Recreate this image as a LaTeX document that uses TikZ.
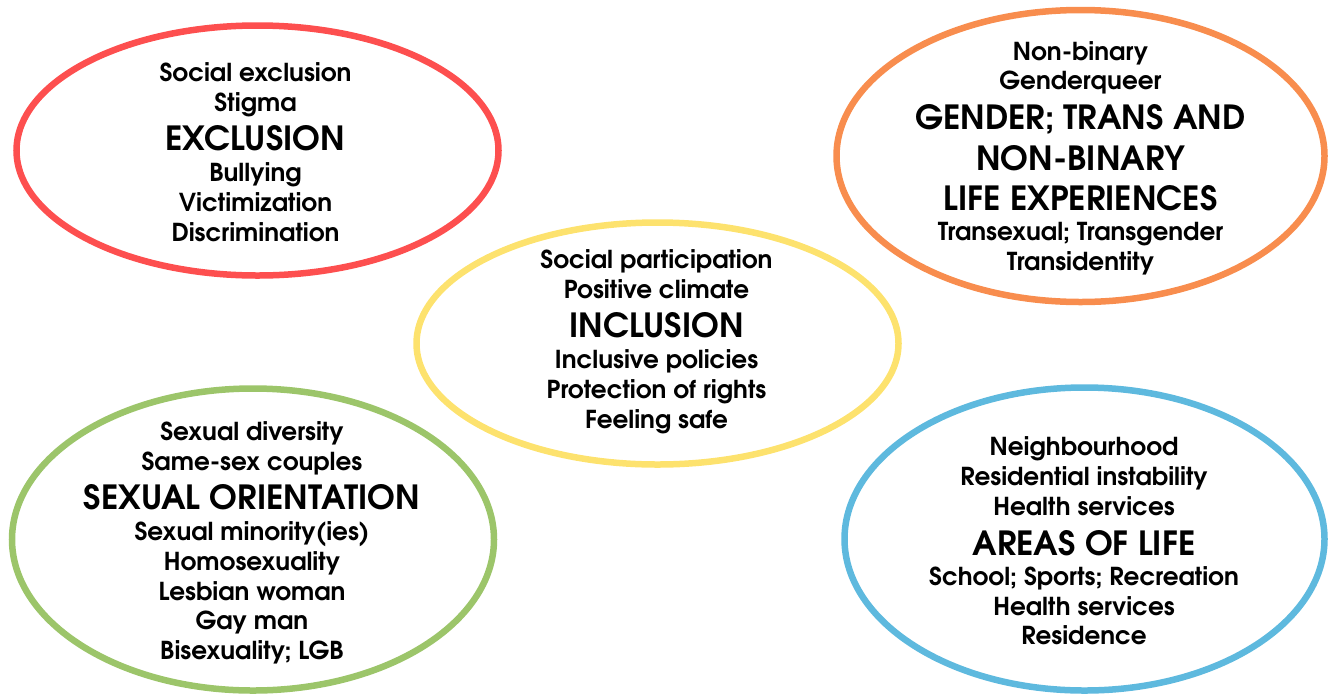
\documentclass[tikz,border=0pt]{standalone}
\usepackage{fontspec}
\setmainfont{texgyreadventor}[Extension=.otf, UprightFont=*-regular, BoldFont=*-bold]
\usetikzlibrary{shapes.geometric}
\definecolor{redc}{HTML}{FD4F4F}
\definecolor{orac}{HTML}{F88D4E}
\definecolor{yelc}{HTML}{FDE26E}
\definecolor{grec}{HTML}{9CC56A}
\definecolor{bluc}{HTML}{5EB9DE}
\tikzset{
  ell/.style={ellipse, line width=6.5pt, inner sep=0pt, outer sep=0pt},
  t/.style={anchor=base, inner sep=0pt, font=\fontsize{24.7}{26}\selectfont\bfseries},
  big/.style={anchor=base, inner sep=0pt, font=\fontsize{33.3}{35}\selectfont\bfseries},
}
\begin{document}
\begin{tikzpicture}[x=1pt, y=-1pt]
\useasboundingbox (0,0) rectangle (1330,694);
% ellipses
\node[ell, draw=redc, minimum width=482pt, minimum height=250pt] (exc) at (257.5,150.5) {};
\node[ell, draw=orac, minimum width=488pt, minimum height=292pt] (gen) at (1080.5,156) {};
\node[ell, draw=yelc, minimum width=482pt, minimum height=242pt] (inc) at (657.5,343.5) {};
\node[ell, draw=grec, minimum width=482pt, minimum height=302pt] (sex) at (253,539.5) {};
\node[ell, draw=bluc, minimum width=480pt, minimum height=303pt] (are) at (1084.5,539) {};
% exclusion
\node[t] (e1) at (255.5,81) {Social exclusion};
\node[t] (e2) at (255.5,111) {Stigma};
\node[big] (e3) at (255.5,150) {EXCLUSION};
\node[t] (e4) at (255.5,181) {Bullying};
\node[t] (e5) at (255.5,211) {Victimization};
\node[t] (e6) at (255.5,241) {Discrimination};
% gender
\node[t] (g1) at (1080.5,60) {Non-binary};
\node[t] (g2) at (1080.5,89.5) {Genderqueer};
\node[big] (g3) at (1080.5,129.5) {GENDER; TRANS AND};
\node[big] (g4) at (1080.5,170) {NON-BINARY};
\node[big] (g5) at (1080.5,210.5) {LIFE EXPERIENCES};
\node[t] (g6) at (1080.5,240.5) {Transexual; Transgender};
\node[t] (g7) at (1080.5,270.5) {Transidentity};
% inclusion
\node[t] (i1) at (656.5,268) {Social participation};
\node[t] (i2) at (656.5,298) {Positive climate};
\node[big] (i3) at (656.5,337) {INCLUSION};
\node[t] (i4) at (656.5,368) {Inclusive policies};
\node[t] (i5) at (656.5,398) {Protection of rights};
\node[t] (i6) at (656.5,428) {Feeling safe};
% sexual orientation
\node[t] (s1) at (252,440) {Sexual diversity};
\node[t] (s2) at (252,470) {Same-sex couples};
\node[big] (s3) at (252,509.5) {SEXUAL ORIENTATION};
\node[t] (s4) at (252,540) {Sexual minority(ies)};
\node[t] (s5) at (252,570) {Homosexuality};
\node[t] (s6) at (252,600) {Lesbian woman};
\node[t] (s7) at (252,629.5) {Gay man};
\node[t] (s8) at (252,659.5) {Bisexuality; LGB};
% areas of life
\node[t] (a1) at (1084,455) {Neighbourhood};
\node[t] (a2) at (1084,485) {Residential instability};
\node[t] (a3) at (1084,515) {Health services};
\node[big] (a4) at (1084,555) {AREAS OF LIFE};
\node[t] (a5) at (1084,585) {School; Sports; Recreation};
\node[t] (a6) at (1084,615) {Health services};
\node[t] (a7) at (1084,644.5) {Residence};
\end{tikzpicture}
\end{document}
